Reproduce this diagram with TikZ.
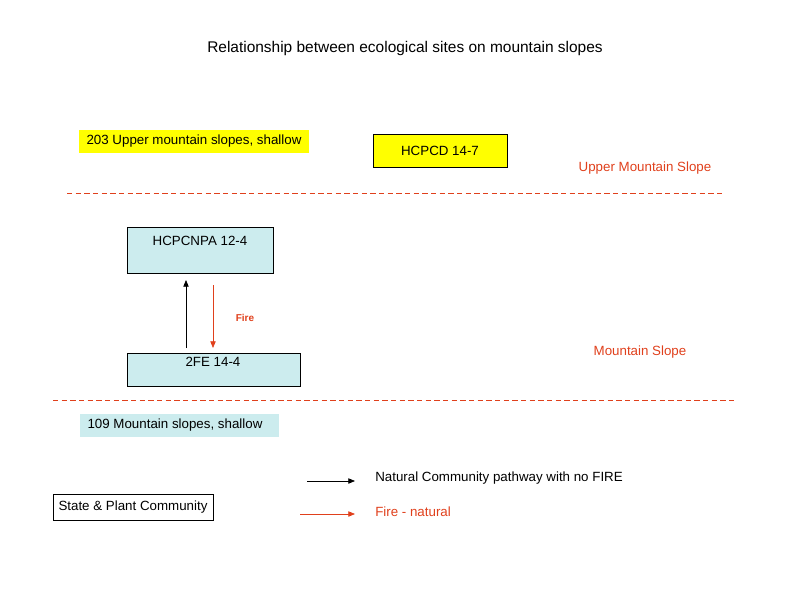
\documentclass[tikz,border=0pt]{standalone}
\usepackage{fontspec}
\setmainfont{Liberation Sans}
\usetikzlibrary{arrows.meta}
\definecolor{ored}{HTML}{E0401C}
\definecolor{lblue}{HTML}{CCECEE}
\definecolor{yel}{HTML}{FFFF00}
\begin{document}
\begin{tikzpicture}[x=0.75pt,y=-0.75pt,
  txt/.style={font=\fontsize{10}{11}\selectfont,inner sep=0pt},
  redtxt/.style={txt,text=ored},
  dline/.style={ored,dash pattern=on 4pt off 2.5pt,line width=0.5pt},
  arr/.style={-{Triangle[length=5pt,width=4pt]},line width=0.6pt}]
\useasboundingbox (0,0) rectangle (800,600);
\node[inner sep=0pt,font=\fontsize{11.6}{13}\selectfont] (title) at (405,48) {Relationship between ecological sites on mountain slopes};
\fill[yel] (79,130) rectangle (309,153);
\node[txt] (s203) at (194,141.5) {203 Upper mountain slopes, shallow};
\draw[fill=yel,line width=0.5pt] (373,134) rectangle (507,167);
\node[txt] (hcpcd) at (440,150.5) {HCPCD 14-7};
\node[redtxt] (ums) at (645,168) {Upper Mountain Slope};
\coordinate (d1a) at (67,193); \coordinate (d1b) at (724,193);
\draw[dline] (d1a) -- (d1b);
\draw[fill=lblue,line width=0.5pt] (127,227) rectangle (273,273);
\node[txt] (hcpcnpa) at (200,241) {HCPCNPA 12-4};
\draw[fill=lblue,line width=0.5pt] (127,353) rectangle (300,386);
\node[txt] (fe) at (213,362) {2FE 14-4};
\coordinate (a1) at (186,348); \coordinate (a2) at (186,280);
\draw[arr] (a1) -- (a2);
\coordinate (b1) at (213,285); \coordinate (b2) at (213,348);
\draw[arr,ored] (b1) -- (b2);
\node[redtxt,font=\bfseries\fontsize{7.5}{9}\selectfont] (fire) at (245,318) {Fire};
\node[redtxt] (ms) at (640,352) {Mountain Slope};
\coordinate (d2a) at (53,400); \coordinate (d2b) at (734,400);
\draw[dline] (d2a) -- (d2b);
\fill[lblue] (80,414) rectangle (279,437);
\node[txt] (s109) at (175,425) {109 Mountain slopes, shallow};
\coordinate (l1a) at (307,481); \coordinate (l1b) at (355,481);
\draw[arr] (l1a) -- (l1b);
\node[txt,anchor=west] (l1) at (375,478) {Natural Community pathway with no FIRE};
\coordinate (l2a) at (300,514); \coordinate (l2b) at (355,514);
\draw[arr,ored] (l2a) -- (l2b);
\node[redtxt,anchor=west] (l2) at (375,512) {Fire - natural};
\draw[line width=0.5pt] (53,494) rectangle (213,520);
\node[txt] (spc) at (133,507) {State \& Plant Community};
\end{tikzpicture}
\end{document}
